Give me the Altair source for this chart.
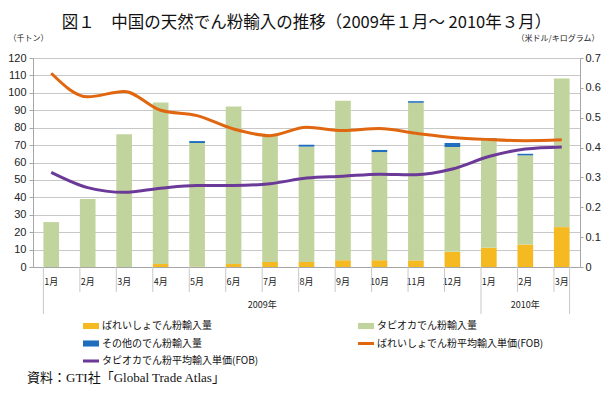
import json
import altair as alt
import pandas as pd

# ---------------- data ----------------
keys = ["2009-01", "2009-02", "2009-03", "2009-04", "2009-05", "2009-06", "2009-07",
        "2009-08", "2009-09", "2009-10", "2009-11", "2009-12", "2010-01", "2010-02", "2010-03"]
month_labels = ["1月", "2月", "3月", "4月", "5月", "6月", "7月", "8月", "9月", "10月",
                "11月", "12月", "1月", "2月", "3月"]

potato = [0, 0, 0, 1.7, 0.2, 1.7, 2.9, 2.9, 3.9, 3.9, 3.8, 8.7, 11.0, 12.9, 22.9]
tapioca = [25.8, 39.1, 76.2, 92.8, 71.0, 90.5, 73.1, 66.2, 91.5, 62.1, 90.5, 60.2, 62.1, 51.2, 85.4]
other = [0, 0, 0, 0, 1.1, 0, 0, 1.1, 0, 1.2, 0.9, 2.3, 0.8, 0.9, 0]

potato_price = [0.649, 0.570, 0.588, 0.525, 0.507, 0.462, 0.440, 0.468, 0.457, 0.464,
                0.448, 0.434, 0.427, 0.423, 0.426]
tapioca_price = [0.317, 0.266, 0.250, 0.264, 0.273, 0.273, 0.279, 0.298, 0.304, 0.311,
                 0.309, 0.328, 0.370, 0.395, 0.402]

s_potato = "ばれいしょでん粉輸入量"
s_tapioca = "タピオカでん粉輸入量"
s_other = "その他のでん粉輸入量"
s_pp = "ばれいしょでん粉平均輸入単価(FOB)"
s_tp = "タピオカでん粉平均輸入単価(FOB)"
# legend fills column by column: left column then right column
series = [s_potato, s_other, s_tp, s_tapioca, s_pp]
colors = ["#F5B922", "#1F6EBE", "#6B3A98", "#C2D49E", "#E0660F"]

years = ["2009年", "2010年"]
title_text = "図１　中国の天然でん粉輸入の推移（2009年１月～ 2010年３月）"
left_unit = "（千トン）"
right_unit = "（米ドル/キログラム）"
source_text = "資料：GTI社「Global Trade Atlas」"

# ---------------- tables ----------------
bars = []
for k, a, b, c in zip(keys, potato, tapioca, other):
    bars.append({"key": k, "series": s_potato, "value": a, "ord": 0})
    bars.append({"key": k, "series": s_tapioca, "value": b, "ord": 1})
    bars.append({"key": k, "series": s_other, "value": c, "ord": 2})
bars_df = pd.DataFrame(bars)

lines = []
for k, p, t in zip(keys, potato_price, tapioca_price):
    lines.append({"key": k, "series": s_pp, "price": p})
    lines.append({"key": k, "series": s_tp, "price": t})
lines_df = pd.DataFrame(lines)

W, H = 547, 209
CJK = "Noto Sans CJK JP"
NUM = "Liberation Sans"
GRAY = "#A6A6A6"

label_map = json.dumps(dict(zip(keys, month_labels)), ensure_ascii=False)

xscale = alt.Scale(domain=keys, paddingInner=0.57, paddingOuter=0.285)
xaxis = alt.Axis(title=None, labelExpr=f"{label_map}[datum.value]", labelAngle=0,
                 ticks=False, domain=True, domainColor=GRAY, labelFont=CJK,
                 labelFontSize=9, labelColor="#222", labelPadding=10, grid=False)

color_scale = alt.Scale(domain=series, range=colors)

line_names = json.dumps([s_pp, s_tp], ensure_ascii=False)
legend = alt.Legend(
    title=None, orient="none", legendX=50, legendY=260, columns=2,
    columnPadding=99, rowPadding=4.5, padding=0, symbolSize=256,
    labelOffset=3, labelFont=CJK, labelFontSize=10, labelColor="#111",
    labelLimit=300, symbolStrokeWidth=0, symbolOpacity=1,
    symbolType={"expr": f"indexof({line_names}, datum.value) >= 0 ? 'M-1,-0.19H1V0.19H-1Z' : 'M-1,-0.38H1V0.38H-1Z'"},
)

bar_layer = alt.Chart(bars_df).mark_bar().encode(
    x=alt.X("key:N", scale=xscale, axis=xaxis, sort=keys),
    y=alt.Y("value:Q", stack="zero",
            scale=alt.Scale(domain=[0, 120], nice=False),
            axis=alt.Axis(title=left_unit, titleAngle=0, titleX=-25, titleY=-20,
                          titleAlign="left", titleBaseline="middle", titleFont=CJK,
                          titleFontSize=8, titleFontWeight="normal", titleColor="#222",
                          values=list(range(0, 121, 10)), grid=True, gridColor="#C8C8C8",
                          domainColor=GRAY, tickColor=GRAY, tickSize=4,
                          labelFont=NUM, labelFontSize=11, labelColor="#222", labelPadding=3)),
    color=alt.Color("series:N", scale=color_scale, legend=legend),
    order=alt.Order("ord:Q"),
)

line_layer = alt.Chart(lines_df).mark_line(interpolate="monotone", strokeWidth=3).encode(
    x=alt.X("key:N", scale=xscale, sort=keys),
    y=alt.Y("price:Q", scale=alt.Scale(domain=[0, 0.7], nice=False),
            axis=alt.Axis(title=right_unit, orient="right", titleAngle=0, titleX=19, titleY=-20,
                          titleAlign="right", titleBaseline="middle", titleFont=CJK,
                          titleFontSize=8, titleFontWeight="normal", titleColor="#222",
                          values=[0, 0.1, 0.2, 0.3, 0.4, 0.5, 0.6, 0.7], format="~g",
                          grid=False, domainColor=GRAY, tickColor=GRAY, tickSize=3,
                          labelFont=NUM, labelFontSize=11, labelColor="#222", labelPadding=2)),
    color=alt.Color("series:N", scale=color_scale, legend=legend),
    detail="series:N",
)

# dividers below x axis
short_df = pd.DataFrame({"key": [k for k in keys if k not in ("2009-01", "2010-01")]})
long_df = pd.DataFrame({"key": ["2009-01", "2010-01"]})
end_df = pd.DataFrame({"key": [keys[-1]]})

short_div = alt.Chart(short_df).mark_rule(color="#C8C8C8", strokeWidth=1).encode(
    x=alt.X("key:N", scale=xscale, bandPosition=0),
    y=alt.value(H), y2=alt.value(H + 25))
long_div = alt.Chart(long_df).mark_rule(color="#C8C8C8", strokeWidth=1).encode(
    x=alt.X("key:N", scale=xscale, bandPosition=0),
    y=alt.value(H), y2=alt.value(H + 47))
end_div = alt.Chart(end_df).mark_rule(color="#C8C8C8", strokeWidth=1).encode(
    x=alt.X("key:N", scale=xscale, bandPosition=1),
    y=alt.value(H), y2=alt.value(H + 47))

y2009 = alt.Chart(pd.DataFrame({"key": ["2009-07"], "t": [years[0]]})).mark_text(
    font=CJK, fontSize=9, color="#222", baseline="middle").encode(
    x=alt.X("key:N", scale=xscale, bandPosition=0), y=alt.value(H + 38), text="t:N")
y2010 = alt.Chart(pd.DataFrame({"key": ["2010-02"], "t": [years[1]]})).mark_text(
    font=CJK, fontSize=9, color="#222", baseline="middle").encode(
    x=alt.X("key:N", scale=xscale, bandPosition=0.5), y=alt.value(H + 38), text="t:N")

src = alt.Chart(pd.DataFrame({"t": [source_text]})).mark_text(
    font="Liberation Serif, Noto Sans CJK JP", fontSize=13, color="#111",
    align="left", baseline="middle").encode(
    x=alt.value(-6), y=alt.value(H + 111), text="t:N")

chart = alt.layer(
    bar_layer, line_layer, short_div, long_div, end_div, y2009, y2010, src
).resolve_scale(y="independent").properties(
    width=W, height=H,
    title=alt.Title(title_text, font=CJK, fontSize=16.5, fontWeight="normal",
                    color="#111", anchor="middle", frame="group", offset=3),
    autosize=alt.AutoSizeParams(type="none"),
    padding={"left": 25, "top": 50, "right": 22, "bottom": 118},
).configure_view(stroke=None).configure_axis(labelOverlap=False)

chart.save("out.html", embed_options={"renderer": "svg", "actions": False})
